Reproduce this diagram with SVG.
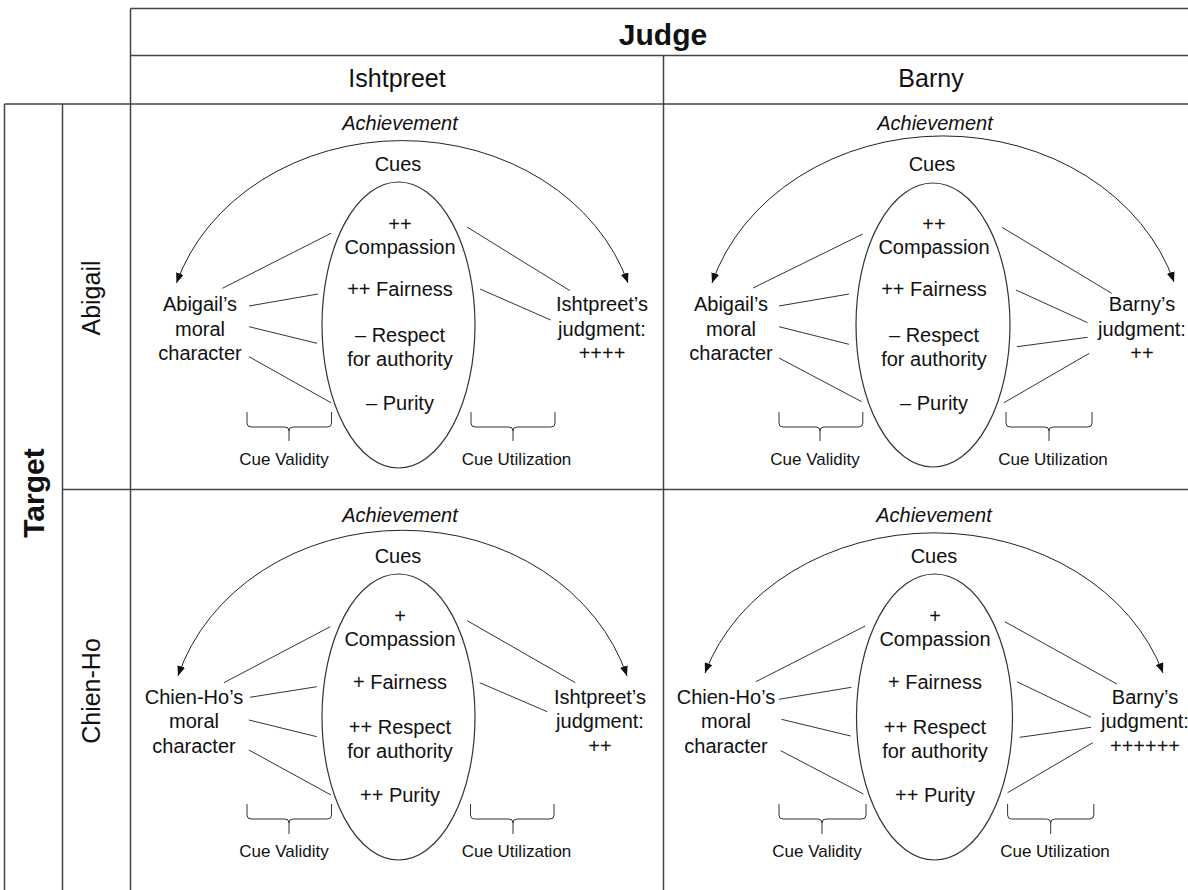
<svg xmlns="http://www.w3.org/2000/svg" width="1188" height="890" viewBox="0 0 1188 890">
<style>
.t{font-family:"Liberation Sans",Arial,Helvetica,sans-serif;fill:#111;text-anchor:middle}
.h{font-size:25px}
.b{font-size:30px;font-weight:bold}
.m{font-size:20px}
.i{font-size:20px;font-style:italic}
.s{font-size:17px}
.ln{stroke:#333;stroke-width:1;fill:none}
.arc{stroke:#222;stroke-width:1;fill:none;marker-start:url(#ah);marker-end:url(#ah)}
.grid{stroke:#444;stroke-width:1.5;fill:none}
.el{stroke:#333;stroke-width:1.2;fill:none}
</style>
<defs>
<marker id="ah" viewBox="0 0 10 8" refX="10" refY="4" markerWidth="10" markerHeight="8" markerUnits="userSpaceOnUse" orient="auto-start-reverse"><path d="M0,0 L10,4 L0,8 z" fill="#111"/></marker>
</defs>
<rect width="1188" height="890" fill="#fff"/>
<g id="table" class="grid">
<path d="M130.5,8.5 H1188 M130.5,55.5 H1188 M4.5,104 H1188 M62.5,489.5 H1188"/>
<path d="M130.5,8.5 V890 M663.5,55.5 V890 M4.5,104 V890 M62.5,104 V890"/>
</g>
<g id="headers">
<text class="t b" x="663" y="45">Judge</text>
<text class="t h" x="397" y="87">Ishtpreet</text>
<text class="t h" x="931" y="87">Barny</text>
<text class="t b" transform="translate(44,493) rotate(-90)">Target</text>
<text class="t h" transform="translate(100,298) rotate(-90)">Abigail</text>
<text class="t h" transform="translate(100,691) rotate(-90)">Chien-Ho</text>
</g>
<g id="q1">
<text class="t i" x="400" y="129.5">Achievement</text>
<text class="t m" x="398" y="171">Cues</text>
<ellipse class="el" cx="398.5" cy="325" rx="76.5" ry="143"/>
<text class="t m" x="400" y="231">++</text>
<text class="t m" x="400" y="254">Compassion</text>
<text class="t m" x="400" y="296">++ Fairness</text>
<text class="t m" x="400" y="342">– Respect</text>
<text class="t m" x="400" y="366">for authority</text>
<text class="t m" x="400" y="409.5">– Purity</text>
<text class="t m" x="200" y="311">Abigail’s</text>
<text class="t m" x="200" y="335.5">moral</text>
<text class="t m" x="200" y="359.5">character</text>
<text class="t m" x="602" y="311">Ishtpreet’s</text>
<text class="t m" x="602" y="335.5">judgment:</text>
<text class="t m" x="602" y="359.5">++++</text>
<text class="t s" x="284" y="465">Cue Validity</text>
<text class="t s" x="516.5" y="465">Cue Utilization</text>
</g>
<g id="q2">
<text class="t i" x="935" y="129.5">Achievement</text>
<text class="t m" x="932" y="171">Cues</text>
<ellipse class="el" cx="933" cy="325" rx="77" ry="142"/>
<text class="t m" x="934" y="231">++</text>
<text class="t m" x="934" y="254">Compassion</text>
<text class="t m" x="934" y="296">++ Fairness</text>
<text class="t m" x="934" y="342">– Respect</text>
<text class="t m" x="934" y="366">for authority</text>
<text class="t m" x="934" y="409.5">– Purity</text>
<text class="t m" x="731" y="311">Abigail’s</text>
<text class="t m" x="731" y="335.5">moral</text>
<text class="t m" x="731" y="359.5">character</text>
<text class="t m" x="1142" y="311">Barny’s</text>
<text class="t m" x="1142" y="335.5">judgment:</text>
<text class="t m" x="1142" y="359.5">++</text>
<text class="t s" x="815" y="465">Cue Validity</text>
<text class="t s" x="1053" y="465">Cue Utilization</text>
</g>
<g id="q3">
<text class="t i" x="400" y="521.5">Achievement</text>
<text class="t m" x="398" y="563">Cues</text>
<ellipse class="el" cx="398.5" cy="717" rx="76.5" ry="143"/>
<text class="t m" x="400" y="623">+</text>
<text class="t m" x="400" y="646">Compassion</text>
<text class="t m" x="400" y="688.5">+ Fairness</text>
<text class="t m" x="400" y="734">++ Respect</text>
<text class="t m" x="400" y="758">for authority</text>
<text class="t m" x="400" y="802">++ Purity</text>
<text class="t m" x="194" y="703.5">Chien-Ho’s</text>
<text class="t m" x="194" y="728">moral</text>
<text class="t m" x="194" y="752.5">character</text>
<text class="t m" x="600" y="703.5">Ishtpreet’s</text>
<text class="t m" x="600" y="728">judgment:</text>
<text class="t m" x="600" y="752.5">++</text>
<text class="t s" x="284" y="857">Cue Validity</text>
<text class="t s" x="516.5" y="857">Cue Utilization</text>
</g>
<g id="q4">
<text class="t i" x="934" y="521.5">Achievement</text>
<text class="t m" x="934" y="563">Cues</text>
<ellipse class="el" cx="934.5" cy="717" rx="78" ry="143"/>
<text class="t m" x="935" y="623">+</text>
<text class="t m" x="935" y="646">Compassion</text>
<text class="t m" x="935" y="688.5">+ Fairness</text>
<text class="t m" x="935" y="734">++ Respect</text>
<text class="t m" x="935" y="758">for authority</text>
<text class="t m" x="935" y="802">++ Purity</text>
<text class="t m" x="726" y="703.5">Chien-Ho’s</text>
<text class="t m" x="726" y="728">moral</text>
<text class="t m" x="726" y="752.5">character</text>
<text class="t m" x="1145" y="703.5">Barny’s</text>
<text class="t m" x="1145" y="728">judgment:</text>
<text class="t m" x="1145" y="752.5">++++++</text>
<text class="t s" x="817" y="857">Cue Validity</text>
<text class="t s" x="1055" y="857">Cue Utilization</text>
</g>
<g id="connectors">
<path class="arc" d="M176.5,283 A236,201 0 0 1 628,283"/>
<path class="arc" d="M712,283 A241,205 0 0 1 1174,282"/>
<path class="arc" d="M178,676 A234,203 0 0 1 627,676"/>
<path class="arc" d="M705,673 A240,200 0 0 1 1163,673"/>
<path class="ln" d="M222.4,288.3 L331,233.3 M249,306 L318,294 M249,326.7 L317,343.3 M249,356.7 L331,402.7 M467,227 L570,290.7 M480,289 L550.7,320"/>
<path class="ln" d="M753,288 L862.8,234 M779,306 L849,294 M779,326.7 L849,344.3 M779,358 L861.7,401.7 M1002,227.3 L1111.7,293.3 M1015.9,290 L1087.6,322.7 M1016.9,346.7 L1087.6,337.3 M1004,402.7 L1089.3,353.3"/>
<path class="ln" d="M223.9,682.7 L330.3,626.7 M249.9,697.3 L316.8,686.7 M248.9,720 L316.8,736.7 M248.9,750 L331,795 M467.2,620.7 L575.3,682.7 M479.7,682.7 L547.2,711.7"/>
<path class="ln" d="M755.9,681.7 L865.2,626 M779,699.3 L851.4,687.3 M781.4,719.3 L850.7,736 M780.7,750.7 L863.4,794 M1004.8,621.7 L1116.9,684 M1016.9,681.7 L1091,717.3 M1019.7,737.3 L1091,727.3 M1007.6,792.7 L1092.8,742.7"/>
</g>
<g id="brackets" class="ln">
<path d="M247,412 V423 Q247,427 251,427 H285 Q289,427 289,431 V441 M289,431 Q289,427 293,427 H327.5 Q331.5,427 331.5,423 V412"/>
<path d="M471,412 V423 Q471,427 475,427 H509 Q513,427 513,431 V441 M513,431 Q513,427 517,427 H551 Q555,427 555,423 V412"/>
<path d="M779,412 V423 Q779,427 783,427 H816 Q820,427 820,431 V441 M820,431 Q820,427 824,427 H858.8 Q862.8,427 862.8,423 V412"/>
<path d="M1006,412 V423 Q1006,427 1010,427 H1045 Q1049,427 1049,431 V441 M1049,431 Q1049,427 1053,427 H1088 Q1092,427 1092,423 V412"/>
<path d="M247,804 V815 Q247,819 251,819 H285 Q289,819 289,823 V834 M289,823 Q289,819 293,819 H327.5 Q331.5,819 331.5,815 V804"/>
<path d="M470.5,804 V815 Q470.5,819 474.5,819 H509 Q513,819 513,823 V834 M513,823 Q513,819 517,819 H550 Q554,819 554,815 V804"/>
<path d="M779,804 V815 Q779,819 783,819 H818 Q822,819 822,823 V834 M822,823 Q822,819 826,819 H862 Q866,819 866,815 V804"/>
<path d="M1007.6,804 V815 Q1007.6,819 1011.6,819 H1046.7 Q1050.7,819 1050.7,823 V834 M1050.7,823 Q1050.7,819 1054.7,819 H1089.8 Q1093.8,819 1093.8,815 V804"/>
</g>
</svg>
